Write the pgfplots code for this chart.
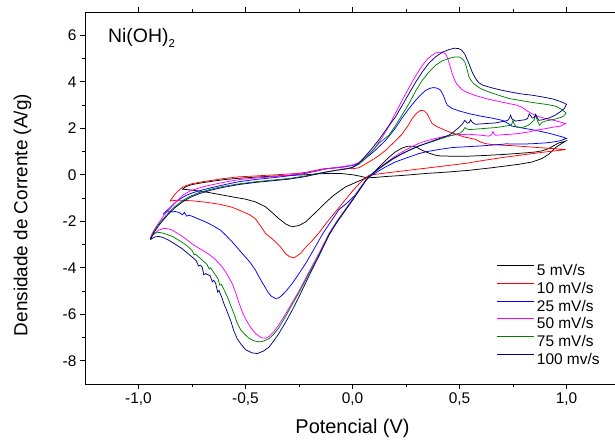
\documentclass[border=0pt]{standalone}
\usepackage{fontspec}
\setmainfont{Liberation Sans}
\usepackage{pgfplots}
\pgfplotsset{compat=1.18}
\definecolor{cnavy}{RGB}{0,0,128}
\definecolor{cgreen}{RGB}{0,128,0}
\definecolor{cmag}{RGB}{255,0,255}
\definecolor{cblue}{RGB}{0,0,255}
\definecolor{cred}{RGB}{255,0,0}
\begin{document}
\begin{tikzpicture}
\begin{axis}[
  scale only axis, width=545.7bp, height=372bp,
  xmin=-1.25, xmax=1.3, ymin=-9, ymax=7,
  xtick={-1,-0.5,0,0.5,1}, ytick={-8,-6,...,6},
  minor x tick num=1, minor y tick num=1,
  tick align=outside, major tick length=5bp, minor tick length=3bp,
  tick style={black, line width=0.6bp},
  axis line style={line width=0.8bp},
  /pgf/number format/assume math mode=true,
  x tick label style={/pgf/number format/.cd, fixed, fixed zerofill, precision=1, use comma, assume math mode=true},
  y tick label style={/pgf/number format/.cd, fixed, precision=0, assume math mode=true},
  ticklabel style={font=\fontsize{15.5}{18}\selectfont},
  xlabel={Potencial (V)},
  ylabel={Densidade de Corrente (A/g)},
  every axis x label/.style={at={(axis description cs:0.4902,0)}, yshift=-44bp, anchor=center, font=\fontsize{20}{24}\selectfont},
  every axis y label/.style={at={(axis description cs:0,0.454)}, xshift=-62.5bp, rotate=90, anchor=center, font=\fontsize{19}{24}\selectfont},
  legend style={draw=none, fill=none, at={(axis cs:0.66,-3.66)}, anchor=north west, font=\fontsize{15.5}{18}\selectfont, row sep=0pt, nodes={inner sep=2.5bp}, /tikz/every even column/.append style={column sep=3bp}},
  legend cell align=left,
  legend image code/.code={\path[draw=none,fill=none] (0bp,0bp) -- (0bp,1bp); \draw[#1, line width=1bp] (0bp,5bp) -- (36.5bp,5bp);},
  every axis plot/.append style={line width=0.75bp},
]
% 5 mV/s
\addplot[black] coordinates {
(-0.796,-0.62) (-0.775,-0.5) (-0.749,-0.42) (-0.7,-0.34) (-0.656,-0.28) (-0.6,-0.21) (-0.531,-0.15) (-0.45,-0.1) (-0.375,-0.06) (-0.3,-0.03) (-0.22,0.0) (-0.16,0.04) (-0.1,0.06) (-0.05,0.05) (0.0,0.0) (0.035,-0.06) (0.065,-0.13)
(0.1,-0.12) (0.15,-0.08) (0.232,-0.03) (0.35,0.06) (0.45,0.12) (0.544,0.19) (0.65,0.3) (0.778,0.45) (0.84,0.55) (0.886,0.7) (0.92,0.9) (0.949,1.17) (0.975,1.33) (0.996,1.45)
(0.985,1.42) (0.964,1.37) (0.94,1.25) (0.918,1.13) (0.886,1.03) (0.856,0.98) (0.78,0.92) (0.70,0.87) (0.62,0.83) (0.544,0.8) (0.45,0.8) (0.41,0.81) (0.388,0.84) (0.36,0.92) (0.326,1.05) (0.3,1.18) (0.279,1.23) (0.255,1.22) (0.232,1.15) (0.2,0.98) (0.17,0.75) (0.14,0.48) (0.11,0.2) (0.085,-0.02) (0.065,-0.13) (0.03,-0.27)
(-0.032,-0.52) (-0.051,-0.64) (-0.09,-0.9) (-0.126,-1.2) (-0.17,-1.6) (-0.219,-2.03) (-0.25,-2.18) (-0.282,-2.24) (-0.31,-2.13) (-0.344,-1.89) (-0.375,-1.63) (-0.406,-1.38) (-0.453,-1.17) (-0.5,-1.05) (-0.562,-0.95) (-0.62,-0.85) (-0.686,-0.74) (-0.75,-0.66) (-0.796,-0.62)
};
\addlegendentry{5 mV/s}
% 10 mV/s
\addplot[cred] coordinates {
(-0.853,-1.13) (-0.84,-0.97) (-0.827,-0.81) (-0.81,-0.66) (-0.796,-0.55) (-0.775,-0.46) (-0.749,-0.38) (-0.7,-0.3) (-0.656,-0.24) (-0.6,-0.16) (-0.531,-0.09) (-0.45,-0.05) (-0.375,-0.01) (-0.3,0.03) (-0.266,0.05) (-0.22,0.1) (-0.188,0.16) (-0.14,0.25) (-0.095,0.29) (-0.06,0.3) (-0.032,0.28) (0.0,0.26) (0.03,0.3) (0.077,0.55) (0.12,0.8) (0.155,1.05) (0.2,1.45) (0.232,1.75) (0.26,2.12) (0.279,2.42) (0.3,2.65) (0.318,2.77) (0.335,2.75) (0.349,2.62) (0.36,2.42) (0.372,2.2) (0.395,2.07) (0.419,1.97) (0.45,1.85) (0.482,1.75) (0.52,1.63) (0.575,1.52) (0.6,1.4) (0.622,1.34) (0.65,1.3) (0.70,1.27) (0.75,1.25) (0.824,1.2) (0.88,1.16) (0.933,1.13) (0.996,1.08)
(0.9,0.98) (0.8,0.86) (0.7,0.74) (0.6,0.6) (0.544,0.51) (0.45,0.4) (0.35,0.29) (0.25,0.18) (0.15,0.07) (0.077,-0.02) (0.04,-0.3) (0.0,-0.7) (-0.04,-1.15) (-0.08,-1.6) (-0.12,-2.05) (-0.157,-2.5) (-0.19,-2.85) (-0.219,-3.12) (-0.245,-3.4) (-0.274,-3.58) (-0.295,-3.52) (-0.313,-3.39) (-0.335,-3.12) (-0.359,-2.89) (-0.38,-2.72) (-0.406,-2.53) (-0.43,-2.2) (-0.453,-1.9) (-0.48,-1.72) (-0.5,-1.64) (-0.53,-1.52) (-0.562,-1.4) (-0.62,-1.27) (-0.686,-1.18) (-0.75,-1.12) (-0.796,-1.1) (-0.825,-1.1) (-0.853,-1.13)
};
\addlegendentry{10 mV/s}
% 25 mV/s
\addplot[cblue] coordinates {
(-0.886,-1.70) (-0.872,-1.58) (-0.858,-1.46) (-0.835,-1.25) (-0.811,-1.07) (-0.78,-0.9) (-0.749,-0.78) (-0.7,-0.65) (-0.656,-0.55) (-0.6,-0.43) (-0.531,-0.3) (-0.45,-0.2) (-0.375,-0.13) (-0.3,-0.05) (-0.219,0.06) (-0.17,0.16) (-0.126,0.25) (-0.08,0.3) (-0.032,0.35) (0.0,0.4) (0.03,0.5) (0.06,0.7) (0.1,1.0) (0.155,1.48) (0.2,2.0) (0.232,2.45) (0.264,2.85) (0.295,3.2) (0.32,3.45) (0.342,3.63) (0.362,3.72) (0.38,3.75) (0.397,3.72) (0.412,3.63) (0.425,3.4) (0.435,3.15) (0.443,2.99) (0.466,2.85) (0.5,2.74) (0.544,2.63) (0.6,2.52) (0.65,2.44) (0.70,2.34) (0.725,2.22) (0.746,2.09) (0.8,2.0) (0.856,1.91) (0.92,1.78) (0.98,1.63) (1.0,1.56)
(0.97,1.46) (0.94,1.41) (0.9,1.37) (0.85,1.34) (0.8,1.32) (0.75,1.32) (0.72,1.33) (0.70,1.31) (0.6,1.24) (0.466,1.17) (0.4,1.08) (0.35,1.0) (0.31,0.91) (0.26,0.75) (0.2,0.55) (0.155,0.34) (0.12,0.15) (0.077,-0.1) (0.045,-0.45) (0.01,-0.9) (-0.03,-1.25) (-0.064,-1.5) (-0.1,-2.0) (-0.14,-2.55) (-0.18,-3.2) (-0.219,-3.82) (-0.25,-4.25) (-0.282,-4.68) (-0.31,-5.0) (-0.329,-5.18) (-0.345,-5.3) (-0.36,-5.32) (-0.38,-5.22) (-0.395,-5.05) (-0.414,-4.75) (-0.435,-4.42) (-0.453,-4.11) (-0.48,-3.75) (-0.515,-3.39) (-0.54,-3.12) (-0.562,-2.89) (-0.59,-2.62) (-0.616,-2.39) (-0.65,-2.2) (-0.686,-2.03) (-0.72,-1.9) (-0.745,-1.8) (-0.764,-1.74) (-0.775,-1.78) (-0.785,-1.62) (-0.795,-1.72) (-0.811,-1.62) (-0.83,-1.58) (-0.842,-1.6) (-0.86,-1.56) (-0.875,-1.62) (-0.886,-1.70)
};
\addlegendentry{25 mV/s}
% 50 mV/s
\addplot[cmag] coordinates {
(-0.945,-2.72) (-0.935,-2.5) (-0.92,-2.27) (-0.9,-2.0) (-0.881,-1.74) (-0.86,-1.52) (-0.842,-1.35) (-0.82,-1.12) (-0.796,-0.9) (-0.76,-0.7) (-0.72,-0.58) (-0.686,-0.49) (-0.61,-0.34) (-0.531,-0.21) (-0.45,-0.14) (-0.375,-0.09) (-0.3,-0.02) (-0.219,0.08) (-0.17,0.16) (-0.126,0.25) (-0.08,0.3) (-0.032,0.37) (0.0,0.42) (0.03,0.52) (0.06,0.75) (0.1,1.1) (0.139,1.6) (0.17,2.1) (0.201,2.65) (0.232,3.2) (0.264,3.75) (0.295,4.25) (0.326,4.7) (0.35,4.98) (0.372,5.14) (0.39,5.24) (0.404,5.27) (0.42,5.27) (0.435,5.2) (0.445,5.0) (0.455,4.7) (0.466,4.35) (0.478,4.05) (0.489,3.88) (0.51,3.68) (0.528,3.57) (0.57,3.42) (0.622,3.28) (0.68,3.16) (0.731,3.06) (0.765,3.0) (0.793,2.9) (0.815,2.75) (0.84,2.62) (0.87,2.5) (0.902,2.42) (0.95,2.32) (0.996,2.2)
(0.972,2.09) (0.94,2.05) (0.9,1.98) (0.86,1.92) (0.824,1.84) (0.78,1.78) (0.75,1.75) (0.7,1.72) (0.669,1.7) (0.66,1.78) (0.656,1.86) (0.65,1.72) (0.637,1.66) (0.6,1.7) (0.544,1.74) (0.482,1.72) (0.43,1.65) (0.388,1.56) (0.35,1.47) (0.31,1.35) (0.27,1.17) (0.232,0.98) (0.19,0.74) (0.155,0.5) (0.12,0.25) (0.09,0.02) (0.065,-0.2) (0.04,-0.53) (0.0,-1.05) (-0.04,-1.57) (-0.075,-2.02) (-0.11,-2.53) (-0.157,-3.38) (-0.19,-3.95) (-0.219,-4.45) (-0.25,-5.0) (-0.282,-5.5) (-0.31,-5.95) (-0.344,-6.45) (-0.37,-6.78) (-0.39,-6.96) (-0.406,-7.03) (-0.425,-7.02) (-0.453,-6.83) (-0.475,-6.58) (-0.5,-6.2) (-0.515,-5.9) (-0.531,-5.5) (-0.545,-5.1) (-0.562,-4.68) (-0.585,-4.3) (-0.609,-3.96) (-0.64,-3.65) (-0.671,-3.42) (-0.71,-3.2) (-0.749,-2.98) (-0.78,-2.75) (-0.811,-2.55) (-0.85,-2.35) (-0.88,-2.3) (-0.905,-2.38) (-0.925,-2.52) (-0.945,-2.72)
};
\addlegendentry{50 mV/s}
% 75 mV/s
\addplot[cgreen] coordinates {
(-0.945,-2.75) (-0.925,-2.4) (-0.905,-2.12) (-0.88,-1.85) (-0.858,-1.62) (-0.83,-1.37) (-0.796,-1.12) (-0.76,-0.93) (-0.718,-0.77) (-0.66,-0.62) (-0.609,-0.51) (-0.53,-0.39) (-0.453,-0.3) (-0.375,-0.23) (-0.297,-0.16) (-0.22,-0.05) (-0.172,0.04) (-0.12,0.13) (-0.07,0.2) (-0.03,0.25) (0.0,0.31) (0.03,0.45) (0.06,0.7) (0.09,1.0) (0.123,1.35) (0.17,1.7) (0.2,2.1) (0.23,2.55) (0.264,3.06) (0.295,3.6) (0.326,4.06) (0.357,4.42) (0.388,4.71) (0.42,4.9) (0.45,5.0) (0.475,5.06) (0.497,5.07) (0.512,5.0) (0.525,4.85) (0.535,4.55) (0.544,4.21) (0.56,3.98) (0.575,3.85) (0.6,3.7) (0.637,3.56) (0.69,3.4) (0.731,3.28) (0.8,3.17) (0.856,3.09) (0.91,3.02) (0.949,2.95) (0.98,2.8) (0.998,2.65)
(0.985,2.52) (0.972,2.46) (0.94,2.38) (0.902,2.31) (0.885,2.25) (0.874,2.13) (0.865,2.3) (0.856,2.56) (0.848,2.35) (0.84,2.27) (0.82,2.12) (0.793,2.03) (0.77,2.05) (0.762,2.09) (0.755,2.2) (0.75,2.34) (0.745,2.2) (0.739,2.13) (0.7,2.07) (0.669,2.03) (0.6,1.98) (0.544,1.94) (0.532,1.98) (0.525,2.03) (0.515,1.88) (0.505,1.8) (0.466,1.7) (0.43,1.6) (0.388,1.47) (0.35,1.36) (0.31,1.25) (0.27,1.08) (0.232,0.9) (0.19,0.68) (0.155,0.46) (0.12,0.23) (0.09,0.0) (0.065,-0.2) (0.04,-0.55) (0.0,-1.08) (-0.04,-1.6) (-0.075,-2.05) (-0.11,-2.57) (-0.157,-3.45) (-0.19,-4.02) (-0.219,-4.52) (-0.25,-5.07) (-0.282,-5.58) (-0.31,-6.05) (-0.344,-6.58) (-0.37,-6.88) (-0.39,-7.05) (-0.415,-7.15) (-0.437,-7.19) (-0.46,-7.14) (-0.484,-7.03) (-0.505,-6.85) (-0.523,-6.66) (-0.54,-6.35) (-0.554,-5.97) (-0.57,-5.6) (-0.585,-5.25) (-0.6,-4.95) (-0.612,-4.72) (-0.62,-4.75) (-0.628,-4.48) (-0.645,-4.25) (-0.663,-4.0) (-0.67,-4.05) (-0.68,-3.85) (-0.705,-3.65) (-0.733,-3.42) (-0.74,-3.44) (-0.75,-3.25) (-0.78,-3.0) (-0.811,-2.82) (-0.842,-2.65) (-0.873,-2.55) (-0.9,-2.48) (-0.92,-2.5) (-0.935,-2.6) (-0.945,-2.75)
};
\addlegendentry{75 mV/s}
% 100 mV/s
\addplot[cnavy] coordinates {
(-0.945,-2.79) (-0.925,-2.45) (-0.905,-2.18) (-0.88,-1.9) (-0.858,-1.67) (-0.83,-1.42) (-0.796,-1.18) (-0.76,-0.98) (-0.718,-0.82) (-0.66,-0.66) (-0.609,-0.55) (-0.53,-0.42) (-0.453,-0.33) (-0.375,-0.26) (-0.297,-0.19) (-0.22,-0.08) (-0.172,0.02) (-0.12,0.12) (-0.07,0.2) (-0.03,0.25) (0.0,0.32) (0.03,0.5) (0.06,0.8) (0.09,1.12) (0.123,1.5) (0.16,1.98) (0.201,2.49) (0.23,2.95) (0.264,3.49) (0.295,3.98) (0.326,4.42) (0.357,4.8) (0.388,5.07) (0.42,5.27) (0.45,5.38) (0.475,5.44) (0.495,5.43) (0.51,5.36) (0.525,5.18) (0.544,4.78) (0.56,4.4) (0.575,4.14) (0.59,3.96) (0.606,3.86) (0.65,3.74) (0.70,3.63) (0.778,3.49) (0.84,3.42) (0.886,3.35) (0.94,3.25) (0.98,3.12) (1.0,3.03)
(0.99,2.85) (0.97,2.70) (0.945,2.55) (0.918,2.44) (0.885,2.36) (0.871,2.34) (0.86,2.5) (0.856,2.6) (0.848,2.45) (0.84,2.44) (0.826,2.62) (0.818,2.42) (0.809,2.37) (0.762,2.31) (0.745,2.4) (0.739,2.56) (0.73,2.38) (0.723,2.33) (0.669,2.23) (0.62,2.2) (0.575,2.17) (0.56,2.25) (0.552,2.37) (0.545,2.24) (0.536,2.22) (0.525,2.34) (0.515,2.2) (0.497,2.03) (0.47,1.82) (0.45,1.70) (0.42,1.6) (0.388,1.5) (0.35,1.37) (0.31,1.23) (0.27,1.07) (0.232,0.91) (0.19,0.7) (0.155,0.48) (0.12,0.25) (0.09,0.02) (0.065,-0.2) (0.04,-0.55) (0.0,-1.1) (-0.04,-1.62) (-0.075,-2.08) (-0.11,-2.6) (-0.157,-3.5) (-0.19,-4.1) (-0.219,-4.65) (-0.25,-5.25) (-0.282,-5.83) (-0.31,-6.3) (-0.344,-6.83) (-0.37,-7.17) (-0.39,-7.41) (-0.415,-7.58) (-0.445,-7.69) (-0.47,-7.66) (-0.50,-7.52) (-0.52,-7.3) (-0.539,-7.05) (-0.555,-6.7) (-0.57,-6.26) (-0.585,-5.9) (-0.601,-5.54) (-0.612,-5.25) (-0.624,-4.97) (-0.63,-5.05) (-0.64,-4.65) (-0.648,-4.54) (-0.655,-4.6) (-0.665,-4.35) (-0.686,-4.25) (-0.695,-4.3) (-0.702,-3.98) (-0.71,-3.89) (-0.72,-3.92) (-0.73,-3.7) (-0.749,-3.54) (-0.77,-3.38) (-0.796,-3.18) (-0.83,-2.98) (-0.858,-2.82) (-0.885,-2.7) (-0.905,-2.65) (-0.925,-2.68) (-0.945,-2.79)
};
\addlegendentry{100 mv/s}
\node[anchor=base west, font=\fontsize{19.5}{22}\selectfont, inner sep=0pt] at (axis cs:-1.143,5.7) {Ni(OH)\raisebox{-5bp}{\fontsize{11.5}{12}\selectfont 2}};
\end{axis}
\pgfresetboundingbox
\useasboundingbox (-85bp,-58bp) rectangle (530bp,384bp);
\end{tikzpicture}
\end{document}
